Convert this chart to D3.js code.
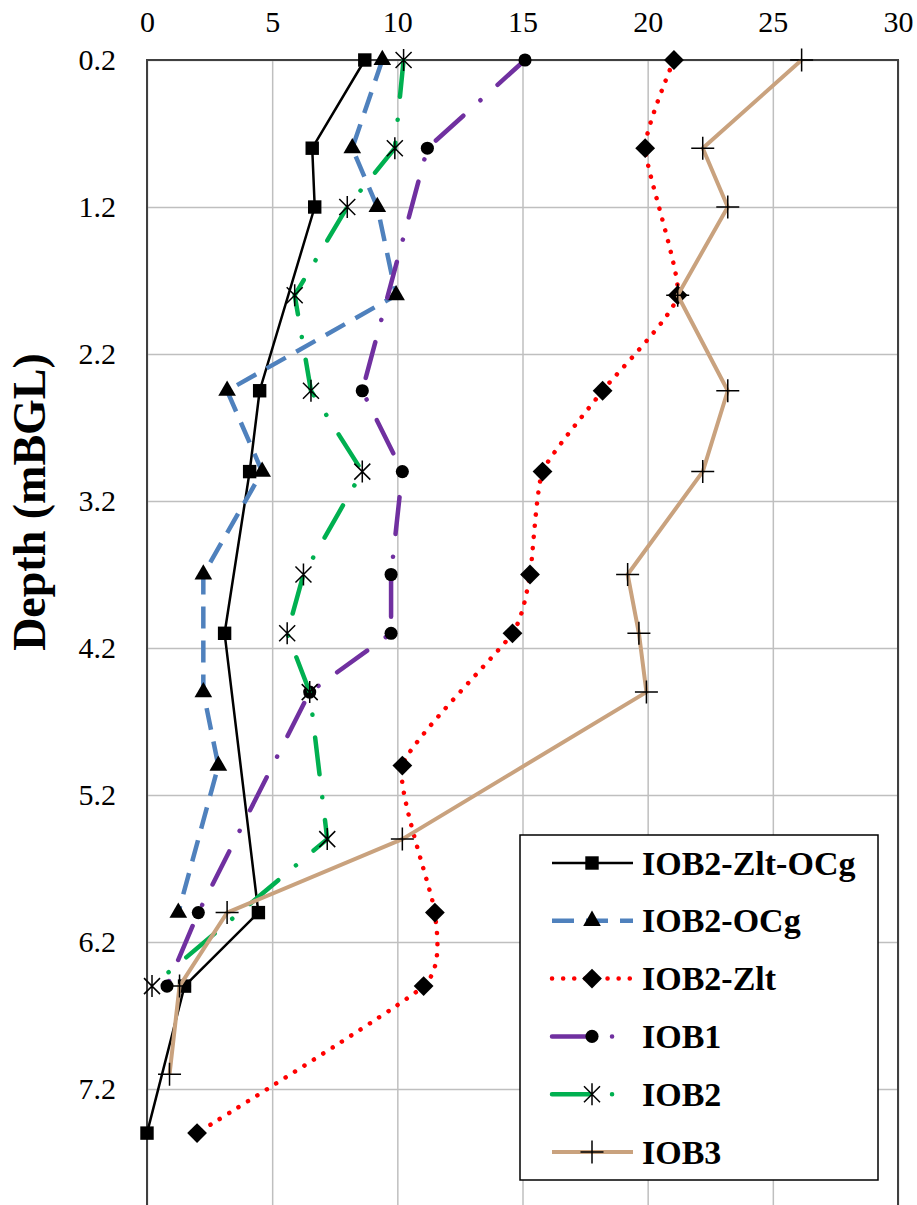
<!DOCTYPE html>
<html>
<head>
<meta charset="utf-8">
<script src="https://cdn.jsdelivr.net/npm/d3@7"></script>
<style>
    html, body { margin: 0; padding: 0; background: #fff; overflow: hidden; }
    svg { display: block; font-family: "Liberation Serif", "Times New Roman", serif; }
</style>
</head>
<body>
<svg id="chart"></svg>
<script>
// tick labels
var xTicks = [0, 5, 10, 15, 20, 25, 30];
var depthTicks = [0.2, 1.2, 2.2, 3.2, 4.2, 5.2, 6.2, 7.2];

// series names (legend order)
var seriesNames = ['IOB2-Zlt-OCg', 'IOB2-OCg', 'IOB2-Zlt', 'IOB1', 'IOB2', 'IOB3'];

// depths (mBGL) and values
var zltOcgDepth = [0.2, 0.8, 1.2, 2.45, 3.0, 4.1, 6.0, 6.5, 7.5];
var zltOcgValue = [8.7, 6.6, 6.7, 4.5, 4.1, 3.1, 4.45, 1.5, 0];

var ocgDepth = [0.2, 0.8, 1.2, 1.8, 2.45, 3.0, 3.7, 4.5, 5.0, 6.0];
var ocgValue = [9.4, 8.2, 9.2, 9.95, 3.2, 4.6, 2.25, 2.25, 2.85, 1.25];

var zltDepth = [0.2, 0.8, 1.8, 2.45, 3.0, 3.7, 4.1, 5.0, 6.0, 6.5, 7.5];
var zltValue = [21.05, 19.9, 21.2, 18.2, 15.8, 15.3, 14.6, 10.2, 11.5, 11.05, 2.0];

var iob1Depth = [0.2, 0.8, 2.45, 3.0, 3.7, 4.1, 4.5, 6.0, 6.5];
var iob1Value = [15.1, 11.2, 8.6, 10.2, 9.75, 9.75, 6.5, 2.05, 0.8];

var iob2Depth = [0.2, 0.8, 1.2, 1.8, 2.45, 3.0, 3.7, 4.1, 4.5, 5.5, 6.5];
var iob2Value = [10.25, 9.9, 8.0, 5.9, 6.55, 8.6, 6.25, 5.6, 6.5, 7.2, 0.2];

var iob3Depth = [0.2, 0.8, 1.2, 1.8, 2.45, 3.0, 3.7, 4.1, 4.5, 5.5, 6.0, 6.5, 7.1];
var iob3Value = [26.15, 22.2, 23.2, 21.2, 23.2, 22.2, 19.2, 19.65, 19.95, 10.2, 3.2, 1.3, 0.9];

(function () {
    var WIDTH = 917, HEIGHT = 1205;
    var left = 147, right = 898, top = 60, bottom = 1236;
    var FONT = '"Liberation Serif", "Times New Roman", serif';

    var svg = d3.select('#chart').attr('width', WIDTH).attr('height', HEIGHT);

    var x = d3.scaleLinear().domain([0, 30]).range([left, right]);
    var y = d3.scaleLinear().domain([0.2, 8.2]).range([top, bottom]);

    function zip(depths, values) {
        return depths.map(function (d, i) { return { d: d, v: values[i] }; });
    }

    var styles = [
        { color: '#000000', width: 2.5, dash: null, cap: 'butt', marker: 'square', curve: d3.curveLinear },
        { color: '#4f81bd', width: 4.5, dash: '22,12', cap: 'butt', marker: 'triangle', curve: d3.curveLinear },
        { color: '#ff0000', width: 4.5, dash: '0.1,11', cap: 'round', marker: 'diamond', curve: d3.curveCardinal.tension(0.5) },
        { color: '#7030a0', width: 4.5, dash: '37,23,0.1,23', cap: 'round', marker: 'circle', curve: d3.curveLinear },
        { color: '#00b050', width: 4.5, dash: '37,23,0.1,23', cap: 'round', marker: 'star', curve: d3.curveLinear },
        { color: '#c9a27e', width: 4, dash: null, cap: 'butt', marker: 'plus', curve: d3.curveLinear }
    ];

    var series = [
        zip(zltOcgDepth, zltOcgValue),
        zip(ocgDepth, ocgValue),
        zip(zltDepth, zltValue),
        zip(iob1Depth, iob1Value),
        zip(iob2Depth, iob2Value),
        zip(iob3Depth, iob3Value)
    ].map(function (points, i) {
        return { name: seriesNames[i], points: points, style: styles[i] };
    });

    function markerPath(type) {
        if (type === 'square') return d3.symbol(d3.symbolSquare, 180)();
        if (type === 'triangle') return d3.symbol(d3.symbolTriangle, 135)();
        if (type === 'diamond') return d3.symbol(d3.symbolSquare, 196)();
        if (type === 'circle') return d3.symbol(d3.symbolCircle, 135)();
        if (type === 'star') return 'M0,-11V11M-8,-8L8,8M-8,8L8,-8';
        return 'M-11.5,0H11.5M0,-11.5V11.5';
    }

    function drawMarker(sel, type) {
        var stroked = (type === 'star' || type === 'plus');
        sel.append('path')
            .attr('d', markerPath(type))
            .attr('transform', type === 'diamond' ? 'rotate(45)' : null)
            .attr('fill', stroked ? 'none' : '#000')
            .attr('stroke', stroked ? '#000' : 'none')
            .attr('stroke-width', 1.5);
    }

    function styleTicks(g) {
        g.attr('font-family', FONT).attr('font-size', 30);
        g.select('.domain').remove();
        g.selectAll('text').attr('fill', '#000');
    }

    // grid
    svg.append('g')
        .attr('transform', 'translate(0,' + top + ')')
        .call(d3.axisTop(x).tickValues(xTicks).tickSize(-(bottom - top)).tickFormat(''))
        .call(function (g) {
            g.select('.domain').remove();
            g.selectAll('line').attr('stroke', '#bfbfbf').attr('stroke-width', 1.5);
        });

    svg.append('g')
        .attr('transform', 'translate(' + left + ',0)')
        .call(d3.axisLeft(y).tickValues(depthTicks).tickSize(-(right - left)).tickFormat(''))
        .call(function (g) {
            g.select('.domain').remove();
            g.selectAll('line').attr('stroke', '#bfbfbf').attr('stroke-width', 1.5);
        });

    // plot border
    svg.append('rect')
        .attr('x', left).attr('y', top)
        .attr('width', right - left).attr('height', bottom - top)
        .attr('fill', 'none').attr('stroke', '#404040').attr('stroke-width', 2);

    // axis labels
    svg.append('g')
        .attr('transform', 'translate(0,' + top + ')')
        .call(d3.axisTop(x).tickValues(xTicks).tickSize(0).tickPadding(28))
        .call(styleTicks);

    svg.append('g')
        .attr('transform', 'translate(' + left + ',0)')
        .call(d3.axisLeft(y).tickValues(depthTicks).tickSize(0).tickPadding(31).tickFormat(d3.format('.1f')))
        .call(styleTicks);

    svg.append('text')
        .attr('transform', 'translate(45,502) rotate(-90)')
        .attr('text-anchor', 'middle')
        .attr('font-size', 46)
        .attr('font-weight', 'bold')
        .text('Depth (mBGL)');

    // series
    series.forEach(function (s) {
        var line = d3.line()
            .x(function (p) { return x(p.v); })
            .y(function (p) { return y(p.d); })
            .curve(s.style.curve);

        var g = svg.append('g');

        g.append('path')
            .datum(s.points)
            .attr('d', line)
            .attr('fill', 'none')
            .attr('stroke', s.style.color)
            .attr('stroke-width', s.style.width)
            .attr('stroke-dasharray', s.style.dash)
            .attr('stroke-linecap', s.style.cap)
            .attr('stroke-linejoin', 'round');

        g.selectAll('g.mk')
            .data(s.points)
            .enter().append('g')
            .attr('class', 'mk')
            .attr('transform', function (p) { return 'translate(' + x(p.v) + ',' + y(p.d) + ')'; })
            .each(function () { drawMarker(d3.select(this), s.style.marker); });
    });

    // legend
    var legend = svg.append('g');
    legend.append('rect')
        .attr('x', 520).attr('y', 835)
        .attr('width', 358).attr('height', 345)
        .attr('fill', '#fff').attr('stroke', '#000').attr('stroke-width', 1.5);

    series.forEach(function (s, i) {
        var cy = 863 + i * 57.8;
        var item = legend.append('g').attr('transform', 'translate(0,' + cy + ')');

        item.append('line')
            .attr('x1', 552).attr('x2', 633)
            .attr('stroke', s.style.color)
            .attr('stroke-width', s.style.width)
            .attr('stroke-dasharray', s.style.dash)
            .attr('stroke-linecap', s.style.cap);

        item.append('g')
            .attr('transform', 'translate(592,0)')
            .call(function (m) { drawMarker(m, s.style.marker); });

        item.append('text')
            .attr('x', 642).attr('y', 11.5)
            .attr('font-size', 34)
            .attr('font-weight', 'bold')
            .text(s.name);
    });
})();
</script>
</body>
</html>
